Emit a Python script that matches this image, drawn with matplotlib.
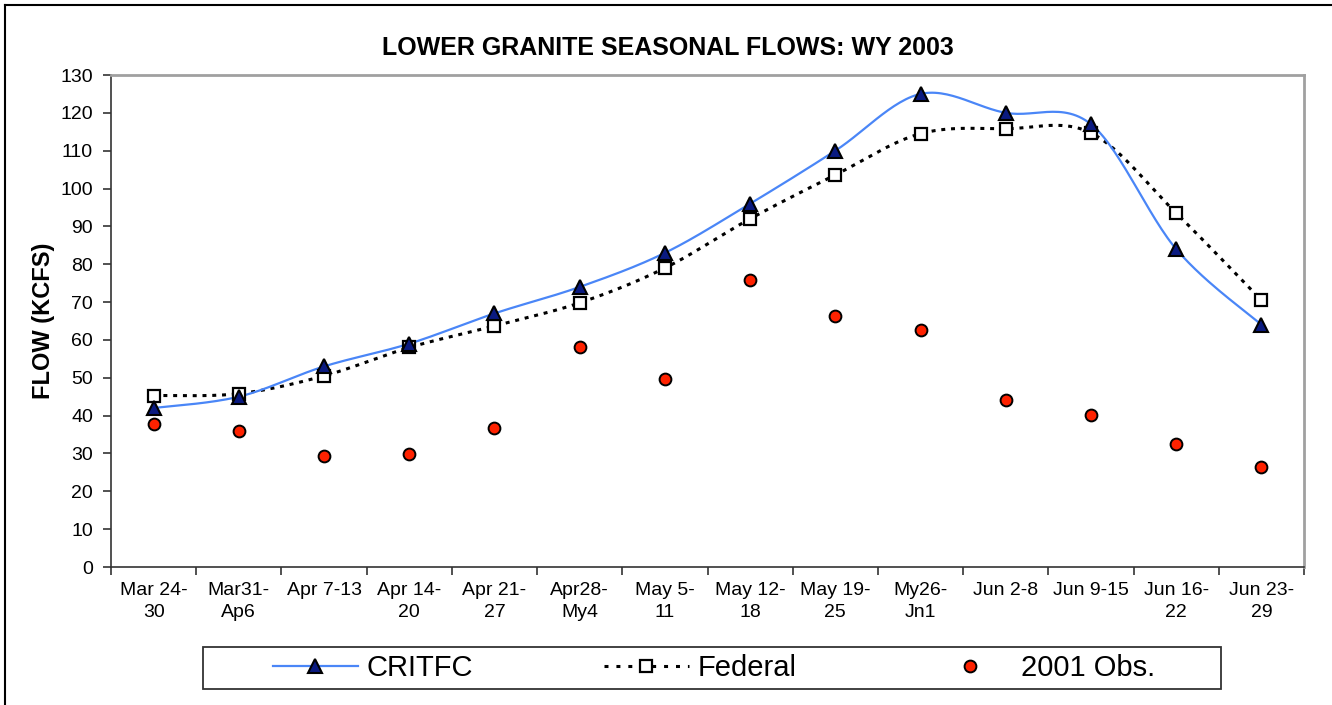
import numpy as np
import matplotlib.pyplot as plt
from matplotlib.lines import Line2D
from matplotlib.patches import Rectangle

plt.rcParams['font.family'] = ['Liberation Sans', 'DejaVu Sans']

# -------- Data --------
weeks = ["Mar 24-\n30", "Mar31-\nAp6", "Apr 7-13", "Apr 14-\n20", "Apr 21-\n27",
         "Apr28-\nMy4", "May 5-\n11", "May 12-\n18", "May 19-\n25", "My26-\nJn1",
         "Jun 2-8", "Jun 9-15", "Jun 16-\n22", "Jun 23-\n29"]
critfc = [42, 45, 53, 59, 67, 74, 83, 96, 110, 125, 120, 117, 84, 64]
federal = [45.3, 45.8, 50.5, 58, 63.7, 69.8, 79, 92, 103.6, 114.5, 115.8, 114.7, 93.5, 70.5]
obs_2001 = [37.8, 36, 29.3, 29.8, 36.8, 58, 49.6, 75.8, 66.2, 62.7, 44, 40.2, 32.4, 26.5]
yticks = list(range(0, 131, 10))


# Excel style smoothed line (cubic bezier through the points)
def smooth(x, y, n=30):
    x = np.asarray(x, float)
    y = np.asarray(y, float)
    px = np.concatenate([[x[0]], x, [x[-1]]])
    py = np.concatenate([[y[0]], y, [y[-1]]])
    t = np.linspace(0, 1, n)
    xs, ys = [], []
    for i in range(1, len(px) - 2):
        p0 = np.array([px[i], py[i]])
        p3 = np.array([px[i + 1], py[i + 1]])
        p1 = p0 + (np.array([px[i + 1], py[i + 1]]) - np.array([px[i - 1], py[i - 1]])) / 6
        p2 = p3 - (np.array([px[i + 2], py[i + 2]]) - np.array([px[i], py[i]])) / 6
        b = ((1 - t) ** 3)[:, None] * p0 + (3 * (1 - t) ** 2 * t)[:, None] * p1 \
            + (3 * (1 - t) * t ** 2)[:, None] * p2 + (t ** 3)[:, None] * p3
        xs.extend(b[:, 0])
        ys.extend(b[:, 1])
    return np.array(xs), np.array(ys)


x = np.arange(len(weeks))

fig = plt.figure(figsize=(13.32, 7.05), dpi=100)
ax = fig.add_axes([111 / 1332, 1 - 567 / 705, (1304 - 111) / 1332, (567 - 75) / 705])

blue = "#4a86f7"
sx, sy = smooth(x, critfc)
ax.plot(sx, sy, color=blue, lw=1.6, zorder=3)
ax.plot(x, critfc, ls="none", marker="^", ms=10, mfc="#0a1a80", mec="black", mew=1.5, zorder=5)

fx, fy = smooth(x, federal)
ax.plot(fx, fy, color="black", lw=2.2, ls=(0, (1.3, 1.9)), zorder=2)
ax.plot(x, federal, ls="none", marker="s", ms=8.5, mfc="white", mec="black", mew=1.6, zorder=4)

ax.plot(x, obs_2001, ls="none", marker="o", ms=8.5, mfc="#ff2200", mec="black", mew=1.4, zorder=4)

ax.set_xlim(-0.5, len(weeks) - 0.5)
ax.set_ylim(0, 130)
ax.set_yticks(yticks)
ax.set_xticks(x)
ax.set_xticklabels(weeks, fontsize=14, linespacing=1.4)
ax.set_xticks(np.arange(len(weeks) + 1) - 0.5, minor=True)
ax.tick_params(axis="x", which="major", length=0, pad=11)
ax.tick_params(axis="x", which="minor", length=6, width=1.2, color="#333333")
ax.tick_params(axis="y", labelsize=14, length=6, width=1.2, color="#333333", pad=7)

for s in ["top", "right"]:
    ax.spines[s].set_color("#a0a0a0")
    ax.spines[s].set_linewidth(2)
for s in ["left", "bottom"]:
    ax.spines[s].set_color("#333333")
    ax.spines[s].set_linewidth(1.2)

fig.text(668 / 1332, 1 - 48 / 705, "LOWER GRANITE SEASONAL FLOWS: WY 2003",
         fontsize=18, fontweight="bold", ha="center", va="center")
fig.text(44 / 1332, 1 - 321 / 705, "FLOW (KCFS)", fontsize=17, fontweight="bold",
         rotation=90, ha="center", va="center")

# -------- Legend --------
fig.add_artist(Rectangle((203 / 1332, 1 - 689 / 705), (1221 - 203) / 1332, 42 / 705,
                         transform=fig.transFigure, fill=False, ec="#333333", lw=1.3))
handles = [
    Line2D([], [], color=blue, lw=1.6, marker="^", ms=10, mfc="#0a1a80", mec="black", mew=1.5),
    Line2D([], [], color="black", lw=2.2, ls=(0, (1.3, 2.6)), marker="s", ms=8.5,
           mfc="white", mec="black", mew=1.6),
    Line2D([], [], ls="none", marker="o", ms=8.5, mfc="#ff2200", mec="black", mew=1.4),
]
fig.legend(handles, ["CRITFC", "Federal", "2001 Obs."], loc="center",
           bbox_to_anchor=(714 / 1332, 1 - 668 / 705), ncol=3, frameon=False,
           fontsize=21, handlelength=2.9, handletextpad=0.3, columnspacing=4.5,
           borderpad=0.2)

# outer chart border
fig.add_artist(Line2D([5 / 1332, 5 / 1332], [0, 1 - 5 / 705], color="black", lw=1.5,
                      transform=fig.transFigure))
fig.add_artist(Line2D([5 / 1332, 1], [1 - 5 / 705, 1 - 5 / 705], color="black", lw=1.5,
                      transform=fig.transFigure))

plt.savefig("out.png", dpi=100)
